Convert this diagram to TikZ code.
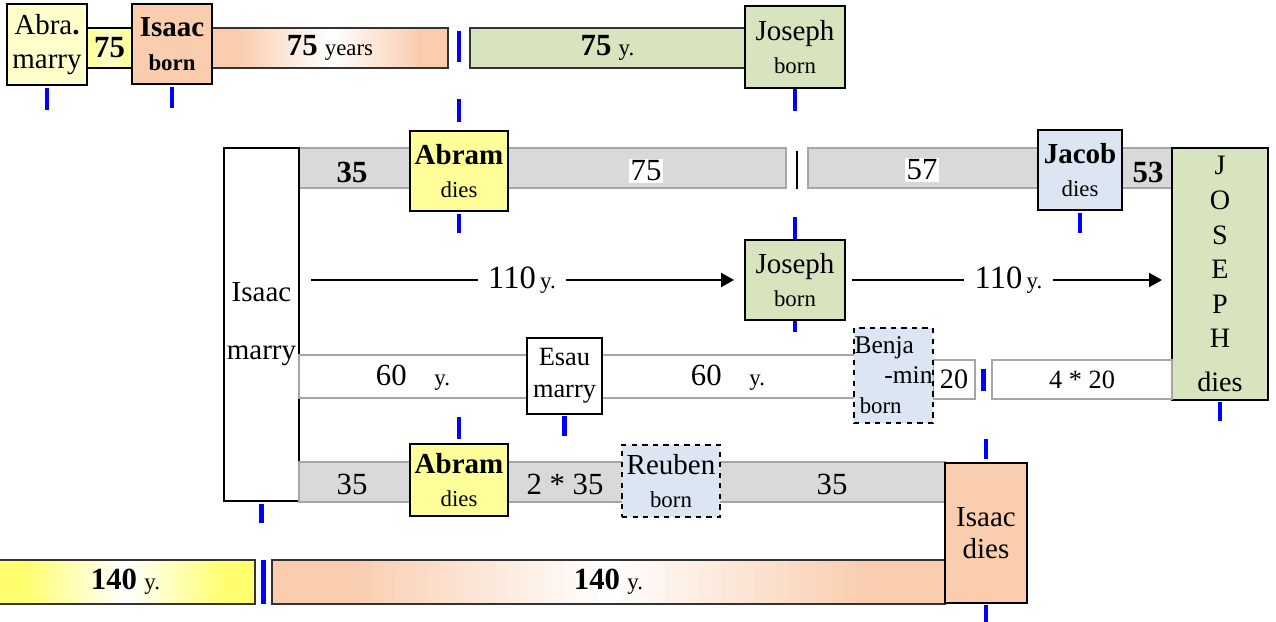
\documentclass[tikz,border=0pt]{standalone}
\usepackage{fontspec}
\setmainfont{Liberation Serif}
\usetikzlibrary{arrows.meta,calc,backgrounds}
\definecolor{lyel}{HTML}{FFFFCC}
\definecolor{yel}{HTML}{FFFF99}
\definecolor{dyel}{HTML}{FFFF70}
\definecolor{peach}{HTML}{F9CDAE}
\definecolor{sage}{HTML}{D7E4BD}
\definecolor{lblue}{HTML}{DCE6F2}
\definecolor{gbar}{HTML}{D9D9D9}
\definecolor{gline}{HTML}{A6A6A6}
\newcommand{\fbig}{\fontsize{16.5}{19}\selectfont}
\newcommand{\fsm}{\fontsize{13}{15}\selectfont}
\newcommand{\fnum}{\fontsize{17.5}{20}\selectfont}
% light middle, coloured ends: #1 node, #2 end colour, #3 middle colour
\newcommand{\gradfill}[3]{%
  \begin{pgfonlayer}{background}
    \begin{scope}
      \clip (#1.south west) rectangle (#1.north east);
      \foreach \i in {0,...,59}{
        \pgfmathsetmacro{\p}{min(100,abs(2*(\i+0.5)/60-1)*130)}
        \pgfmathsetmacro{\ga}{\i/60}
        \pgfmathsetmacro{\gb}{(\i+1.4)/60}
        \fill[#2!\p!#3] ($(#1.south west)!\ga!(#1.south east)$)
          rectangle ($(#1.north west)!\gb!(#1.north east)$);
      }
    \end{scope}
  \end{pgfonlayer}}
\tikzset{
  box/.style    = {rectangle, draw=black, line width=1.1pt, align=center,
                   inner sep=0pt, font=\fbig},
  ybox/.style   = {box, fill=yel},
  pbox/.style   = {box, fill=peach},
  gbox/.style   = {box, fill=sage},
  bluebox/.style= {box, fill=lblue, dashed},
  bar/.style    = {rectangle, draw=gline, line width=1.1pt, fill=gbar,
                   inner sep=0pt, minimum height=8mm, font=\fbig},
  wbar/.style   = {bar, fill=white},
  kbar/.style   = {bar, draw=black!80},
  lbl/.style    = {inner sep=1pt, font=\fnum},
  wlbl/.style   = {lbl, fill=white},
  blu/.style    = {draw=blue, line width=2.3pt},
  ar/.style     = {-{Triangle[length=2.6mm, width=2.8mm]}, line width=1.1pt}
}
\begin{document}
\begin{tikzpicture}[x=0.2mm, y=-0.2mm]
  \useasboundingbox (0,0) rectangle (1276,622);
  % top line
  \node[kbar, fill=none, minimum width=47.2mm] (bar75) at (330,48)
        {{\fnum\textbf{75}} {\fsm years}};
  \gradfill{bar75}{peach}{white}
  \node[kbar, fill=sage, minimum width=55mm] (grn75) at (607.5,48)
        {{\fnum\textbf{75}} {\fsm y.}};
  \node[box, fill=lyel, minimum width=16mm, minimum height=16.2mm] (abra) at (47,44.5)
        {Abra\textbf{.}\\marry};
  \node[box, minimum width=9mm, minimum height=8mm] (y75) at (109.5,48)
        {\fnum\textbf{75}};
  \gradfill{y75}{yel}{lyel}
  \node[pbox, minimum width=16mm, minimum height=16mm] (isaacb) at (172,44)
        {\textbf{Isaac}\\{\fsm\bfseries born}};
  \node[gbox, minimum width=20mm, minimum height=16.4mm] (josepht) at (795,47)
        {Joseph\\{\fsm born}};
  % second line
  \node[bar, minimum width=97.4mm] (bar2a) at (542.5,168) {};
  \node[bar, minimum width=72.8mm] (bar2b) at (990,168) {};
  \node[lbl] (n35a) at (352,172) {\textbf{35}};
  \node[wlbl] (n75) at (646,171) {75};
  \node[wlbl] (n57) at (922,170) {57};
  \node[lbl] (n53) at (1148,172) {\textbf{53}};
  \node[ybox, minimum width=19.6mm, minimum height=16mm] (abram1) at (459,171)
        {\textbf{Abram}\\{\fsm dies}};
  \node[bluebox, solid, minimum width=16.8mm, minimum height=16mm] (jacob) at (1080,170)
        {\textbf{Jacob}\\{\fsm dies}};
  \node[gbox, minimum width=19.2mm, minimum height=50.4mm,
        font=\fontsize{16}{19.7}\selectfont] (josephd) at (1220,274)
        {J\\O\\S\\E\\P\\H\\[5pt]dies};
  \node[box, fill=white, minimum width=15mm, minimum height=70.6mm] (isaacm) at (261.5,324.5)
        {Isaac\\[14pt]marry};
  % third line
  \node[gbox, minimum width=20mm, minimum height=16mm] (josephm) at (795,280)
        {Joseph\\{\fsm born}};
  \draw[ar, shorten <=2.2mm, shorten >=2mm] (isaacm.east |- josephm.west) -- (josephm.west)
        node[midway, fill=white, inner xsep=6pt, inner ysep=1pt] (l110a)
        {{\fontsize{18.5}{21}\selectfont 110} {\fsm y.}};
  \draw[ar, shorten <=1.2mm, shorten >=1.8mm] (josephm.east) -- (josephd.west |- josephm.east)
        node[midway, fill=white, inner xsep=6pt, inner ysep=1pt] (l110b)
        {{\fontsize{18.5}{21}\selectfont 110} {\fsm y.}};
  % fourth line
  \node[wbar, minimum width=111.2mm, minimum height=8.6mm] (bar4a) at (577,376.5) {};
  \node[lbl] (n60a) at (413,378) {60\hspace{0.9em}{\fsm y.}};
  \node[lbl] (n60b) at (728,378) {60\hspace{0.9em}{\fsm y.}};
  \node[box, fill=white, minimum width=15mm, minimum height=15.2mm,
        font=\fontsize{15}{18}\selectfont] (esau) at (564.5,376) {Esau\\marry};
  \node[wbar, minimum width=8.4mm, minimum height=7.8mm, font=\fontsize{16}{19}\selectfont]
        (n20) at (954,379.5) {20};
  \node[wbar, minimum width=36mm, minimum height=7.8mm, font=\fontsize{15}{18}\selectfont]
        (bar4b) at (1082,379.5) {4 * 20};
  \node[bluebox, minimum width=15.8mm, minimum height=19mm, text width=15.6mm, align=left,
        font=\fontsize{14.5}{17}\selectfont] (benja) at (893.5,375.5)
        {Benja\\\hfill-min\\\hspace*{3pt}{\fsm born}};
  % fifth line
  \node[bar, minimum width=129.2mm] (bar5) at (622,482) {};
  \node[lbl] (n35b) at (352,484) {35};
  \node[lbl] (n235) at (565,484) {2 * 35};
  \node[lbl] (n35c) at (832,484) {35};
  \node[ybox, minimum width=19.6mm, minimum height=14.4mm] (abram2) at (459,480)
        {\textbf{Abram}\\{\fsm dies}};
  \node[bluebox, minimum width=19.6mm, minimum height=14.4mm] (reuben) at (671,481)
        {Reuben\\{\fsm born}};
  % bottom line
  \node[kbar, fill=none, minimum width=51.8mm, minimum height=8.8mm] (bar140a)
        at (125.5,582) {{\fnum\textbf{140}} {\fsm y.}};
  \gradfill{bar140a}{dyel}{white}
  \node[kbar, fill=none, minimum width=134.6mm, minimum height=8.8mm] (bar140b)
        at (608.5,582) {{\fnum\textbf{140}} {\fsm y.}};
  \gradfill{bar140b}{peach}{white}
  \node[pbox, minimum width=16.4mm, minimum height=28mm,
        font=\fontsize{16.5}{18}\selectfont] (isaacd) at (986,533) {Isaac\\dies};
  % blue marks
  \draw[blu] (abra.south) ++(0,2) -- ++(0,22);
  \draw[blu] (isaacb.south) ++(0,2) -- ++(0,21);
  \draw[blu] (abram1.north |- bar75.north) ++(0,4) -- ++(0,31);
  \draw[blu] (abram1.north) ++(0,-8) -- ++(0,-23);
  \draw[blu] (abram1.south) ++(0,2) -- ++(0,19);
  \draw[blu] (josepht.south) -- ++(0,22);
  \draw[blu] (josephm.north) -- ++(0,-22);
  \draw[blu] (josephm.south) -- ++(0,11);
  \draw[blu] (jacob.south) ++(0,2) -- ++(0,20);
  \draw[blu] (josephd.south) ++(0,1) -- ++(0,19);
  \draw[blu] (esau.south) ++(0,1) -- ++(0,20);
  \draw[blu] (abram2.north) ++(0,-4) -- ++(0,-22);
  \draw[blu] (983.5,369) -- (983.5,391);
  \draw[blu] (isaacm.south) ++(0,2) -- ++(0,19);
  \draw[blu] (isaacd.north) ++(0,-3) -- ++(0,-20);
  \draw[blu] (isaacd.south) ++(0,1) -- ++(0,19);
  \draw[blu] (263.5,560) -- (263.5,604);
  \draw[line width=1.6pt] (797,151) -- (797,189);
\end{tikzpicture}
\end{document}
